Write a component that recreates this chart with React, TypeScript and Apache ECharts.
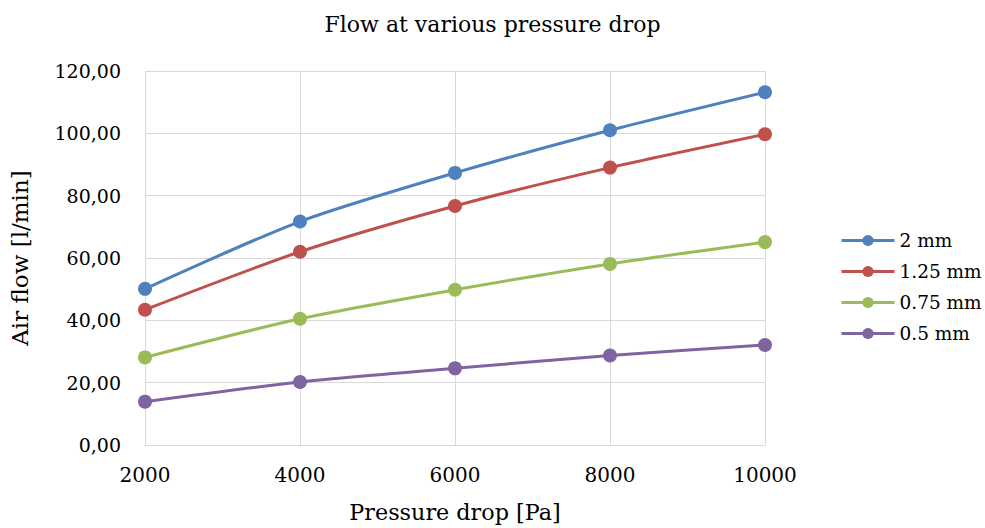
import React, { useEffect, useRef } from "react";
import * as echarts from "echarts";

const categories = ["2000", "4000", "6000", "8000", "10000"];
const seriesNames = ["2 mm", "1.25 mm", "0.75 mm", "0.5 mm"];
const s2mm = [50.1, 71.7, 87.3, 101.0, 113.2];
const s125mm = [43.4, 62.0, 76.7, 89.0, 99.7];
const s075mm = [28.1, 40.5, 49.8, 58.1, 65.1];
const s05mm = [13.9, 20.2, 24.6, 28.7, 32.1];
const colors = ["#4F81BD", "#C0504D", "#9BBB59", "#8064A2"];

const FONT = "DejaVu Serif";

export default function App() {
  const ref = useRef<HTMLDivElement>(null);
  useEffect(() => {
    if (!ref.current) return;
    const chart = echarts.init(ref.current, undefined, { renderer: "svg" });
    const data = [s2mm, s125mm, s075mm, s05mm];
    chart.setOption({
      animation: false,
      backgroundColor: "#fff",
      textStyle: { fontFamily: FONT },
      title: {
        text: "Flow at various pressure drop",
        left: "center",
        top: 8,
        textStyle: { fontFamily: FONT, fontSize: 22, fontWeight: "normal", color: "#000" },
      },
      legend: {
        orient: "vertical",
        left: 835,
        top: 226,
        itemWidth: 53,
        itemHeight: 14,
        itemGap: 12,
        lineStyle: { width: 3 },
        textStyle: { fontFamily: FONT, fontSize: 18.5, lineHeight: 19, color: "#000" },
        data: seriesNames,
      },
      grid: { left: 137, right: 220, top: 71, bottom: 83, containLabel: false },
      xAxis: {
        type: "category",
        data: categories,
        boundaryGap: false,
        name: "Pressure drop [Pa]",
        nameLocation: "middle",
        nameGap: 56,
        nameTextStyle: { fontFamily: FONT, fontSize: 22.3, color: "#000" },
        axisLine: { show: true, lineStyle: { color: "#D9D9D9", width: 1 } },
        axisTick: { show: false },
        axisLabel: { fontFamily: FONT, fontSize: 20, color: "#000", margin: 20 },
        splitLine: { show: true, lineStyle: { color: "#D9D9D9", width: 1 } },
      },
      yAxis: {
        type: "value",
        min: 0,
        max: 120,
        interval: 20,
        name: "Air flow [l/min]",
        nameLocation: "middle",
        nameGap: 114,
        nameTextStyle: { fontFamily: FONT, fontSize: 23, color: "#000" },
        axisLine: { show: false },
        axisTick: { show: false },
        axisLabel: {
          fontFamily: FONT,
          fontSize: 19,
          color: "#000",
          margin: 24,
          formatter: (v: number) => v.toFixed(2).replace(".", ","),
        },
        splitLine: { show: true, lineStyle: { color: "#D9D9D9", width: 1 } },
      },
      series: seriesNames.map((name, i) => ({
        name,
        type: "line",
        data: data[i],
        smooth: 0.25,
        symbol: "circle",
        symbolSize: 14,
        color: colors[i],
        lineStyle: { width: 3, color: colors[i] },
        itemStyle: { color: colors[i] },
      })),
    });
    return () => chart.dispose();
  }, []);
  return (
    <div
      ref={ref}
      style={{ position: "fixed", left: 0, top: 0, width: 985, height: 528 }}
    />
  );
}
